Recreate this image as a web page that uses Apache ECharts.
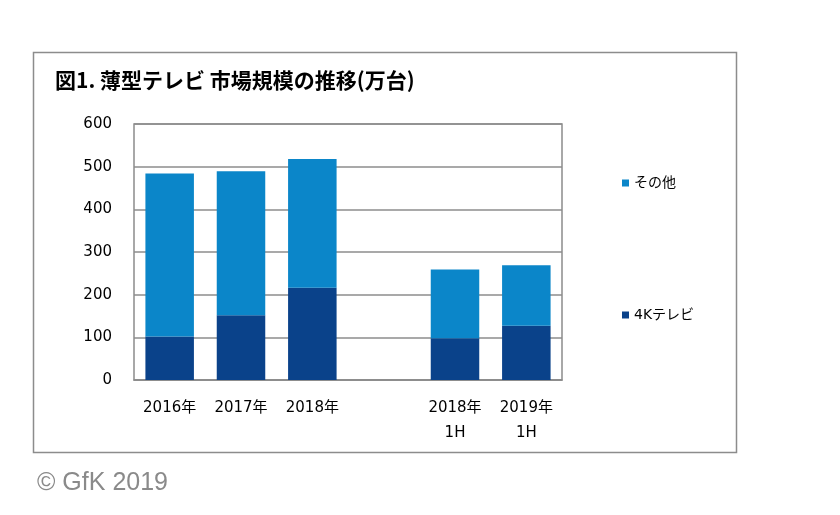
<!DOCTYPE html>
<html><head><meta charset="utf-8">
<script src="https://cdn.jsdelivr.net/npm/echarts@6/dist/echarts.min.js"></script>
<style>html,body{margin:0;padding:0;background:#fff}#c{width:840px;height:515px}</style>
</head><body><div id="c"></div>
<script>
const categories = ['2016年', '2017年', '2018年', '', '2018年\n1H', '2019年\n1H'];
const series4K = [102, 152, 216, null, 98, 127];
const seriesOther = [382, 337, 302, null, 161, 142];
const yTicks = [0, 100, 200, 300, 400, 500, 600];
const seriesNames = ['4Kテレビ', 'その他'];
const titleText = '図1. 薄型テレビ 市場規模の推移(万台)';
const creditText = '© GfK 2019';

const FONT = '"DejaVu Sans", "Noto Sans CJK JP", sans-serif';
const chart = echarts.init(document.getElementById('c'), null, {renderer: 'canvas'});
chart.setOption({
  animation: false,
  backgroundColor: '#fff',
  textStyle: {fontFamily: FONT},
  graphic: [
    {type: 'rect', shape: {x: 33.5, y: 52.5, width: 703, height: 400}, style: {fill: 'none', stroke: '#8c8c8c', lineWidth: 1.5}},
    {type: 'text', left: 55, top: 70, style: {text: titleText, font: 'bold 21px "Noto Sans CJK JP", sans-serif', fill: '#000'}},
    {type: 'text', left: 37, top: 471, style: {text: creditText, font: '25px "Liberation Sans", sans-serif', fill: '#8a8a8a'}}
  ],
  legend: {
    data: [seriesNames[1], seriesNames[0]],
    orient: 'vertical',
    left: 617, top: 171,
    itemWidth: 7, itemHeight: 7, itemGap: 118,
    icon: 'rect',
    textStyle: {fontSize: 14, color: '#000', fontFamily: FONT}
  },
  grid: {left: 134, right: 278, top: 124, bottom: 135, show: true, borderColor: '#8c8c8c', borderWidth: 1.5},
  xAxis: {
    type: 'category', data: categories,
    axisLine: {show: true, lineStyle: {color: '#8c8c8c', width: 1.5}},
    axisTick: {show: false},
    axisLabel: {fontSize: 15, color: '#000', lineHeight: 25, margin: 16, interval: 0, fontFamily: FONT}
  },
  yAxis: {
    type: 'value', min: 0, max: 600, interval: 100,
    axisLine: {show: false}, axisTick: {show: false},
    splitLine: {lineStyle: {color: '#8c8c8c', width: 1.5}},
    axisLabel: {fontSize: 15, color: '#000', margin: 22, fontFamily: FONT,
      formatter: v => yTicks.includes(v) ? String(v) : ''}
  },
  series: [
    {name: seriesNames[0], type: 'bar', stack: 't', data: series4K, barCategoryGap: '32%', itemStyle: {color: '#0a428a'}},
    {name: seriesNames[1], type: 'bar', stack: 't', data: seriesOther, barCategoryGap: '32%', itemStyle: {color: '#0b86c9'}}
  ]
});
</script></body></html>
